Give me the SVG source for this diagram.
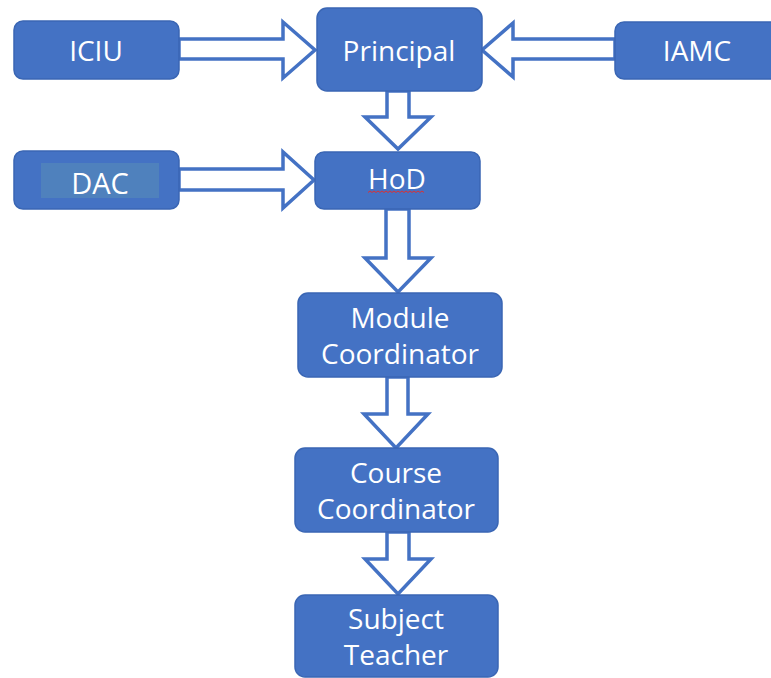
<svg xmlns="http://www.w3.org/2000/svg" width="771" height="678" viewBox="0 0 771 678">
  <style>
    .box { fill: #4472C4; stroke: #3A66B4; stroke-width: 1.5; }
    .arrow { fill: #FFFFFF; stroke: #4472C4; stroke-width: 3.5; stroke-linejoin: miter; }
    .label { fill: #FFFFFF; font-family: "Open Sans", "Noto Sans", "DejaVu Sans", sans-serif; font-size: 28px; text-anchor: middle; }
  </style>
  <rect width="771" height="678" fill="#FFFFFF"/>

  <!-- block arrows -->
  <g id="connectors">
    <!-- ICIU to Principal -->
    <polygon class="arrow" points="179,39 283,39 283,22 315,50 283,78 283,59 179,59"/>
    <!-- IAMC to Principal -->
    <polygon class="arrow" points="615,39 513,39 513,23 482,50 513,77 513,59 615,59"/>
    <!-- DAC to HoD -->
    <polygon class="arrow" points="179,169 283,169 283,152 314,180 283,208 283,190 179,190"/>
    <!-- Principal to HoD -->
    <polygon class="arrow" points="387,91 409,91 409,117 431,117 398,149 365,117 387,117"/>
    <!-- HoD to Module Coordinator -->
    <polygon class="arrow" points="386,209 409,209 409,258 431,258 398,292 365,258 386,258"/>
    <!-- Module Coordinator to Course Coordinator -->
    <polygon class="arrow" points="387,377 408,377 408,414 428,414 396,448 364,414 387,414"/>
    <!-- Course Coordinator to Subject Teacher -->
    <polygon class="arrow" points="387,532 409,532 409,559 431,559 398,594 365,559 387,559"/>
  </g>

  <g id="iciu">
    <rect class="box" x="14" y="21" width="165" height="58" rx="9"/>
    <text class="label" x="96" y="61">ICIU</text>
  </g>

  <g id="principal">
    <rect class="box" x="317" y="8" width="165" height="83" rx="10"/>
    <text class="label" x="399" y="61">Principal</text>
  </g>

  <g id="iamc">
    <rect class="box" x="615" y="22" width="165" height="57" rx="9"/>
    <text class="label" x="697" y="61">IAMC</text>
  </g>

  <g id="dac">
    <rect class="box" x="14" y="151" width="165" height="58" rx="9"/>
    <rect x="41" y="163" width="118" height="35" fill="#4F81BD"/>
    <text class="label" x="100" y="194" style="font-size:29px">DAC</text>
  </g>

  <g id="hod">
    <rect class="box" x="315" y="152" width="165" height="57" rx="9"/>
    <text class="label" x="397" y="189">HoD</text>
    <path d="M368,192.5 l2,-1.5 l2,1.5 l2,-1.5 l2,1.5 l2,-1.5 l2,1.5 l2,-1.5 l2,1.5 l2,-1.5 l2,1.5 l2,-1.5 l2,1.5 l2,-1.5 l2,1.5 l2,-1.5 l2,1.5 l2,-1.5 l2,1.5 l2,-1.5 l2,1.5 l2,-1.5 l2,1.5 l2,-1.5 l2,1.5 l2,-1.5 l2,1.5 l2,-1.5 l2,1.5" fill="none" stroke="#E03030" stroke-width="1"/>
  </g>

  <g id="module-coordinator">
    <rect class="box" x="298" y="293" width="204" height="84" rx="10"/>
    <text class="label" x="400" y="328">Module</text>
    <text class="label" x="400" y="364">Coordinator</text>
  </g>

  <g id="course-coordinator">
    <rect class="box" x="295" y="448" width="203" height="84" rx="10"/>
    <text class="label" x="396" y="483">Course</text>
    <text class="label" x="396" y="519">Coordinator</text>
  </g>

  <g id="subject-teacher">
    <rect class="box" x="295" y="595" width="203" height="82" rx="10"/>
    <text class="label" x="396" y="629">Subject</text>
    <text class="label" x="396" y="665">Teacher</text>
  </g>
</svg>
